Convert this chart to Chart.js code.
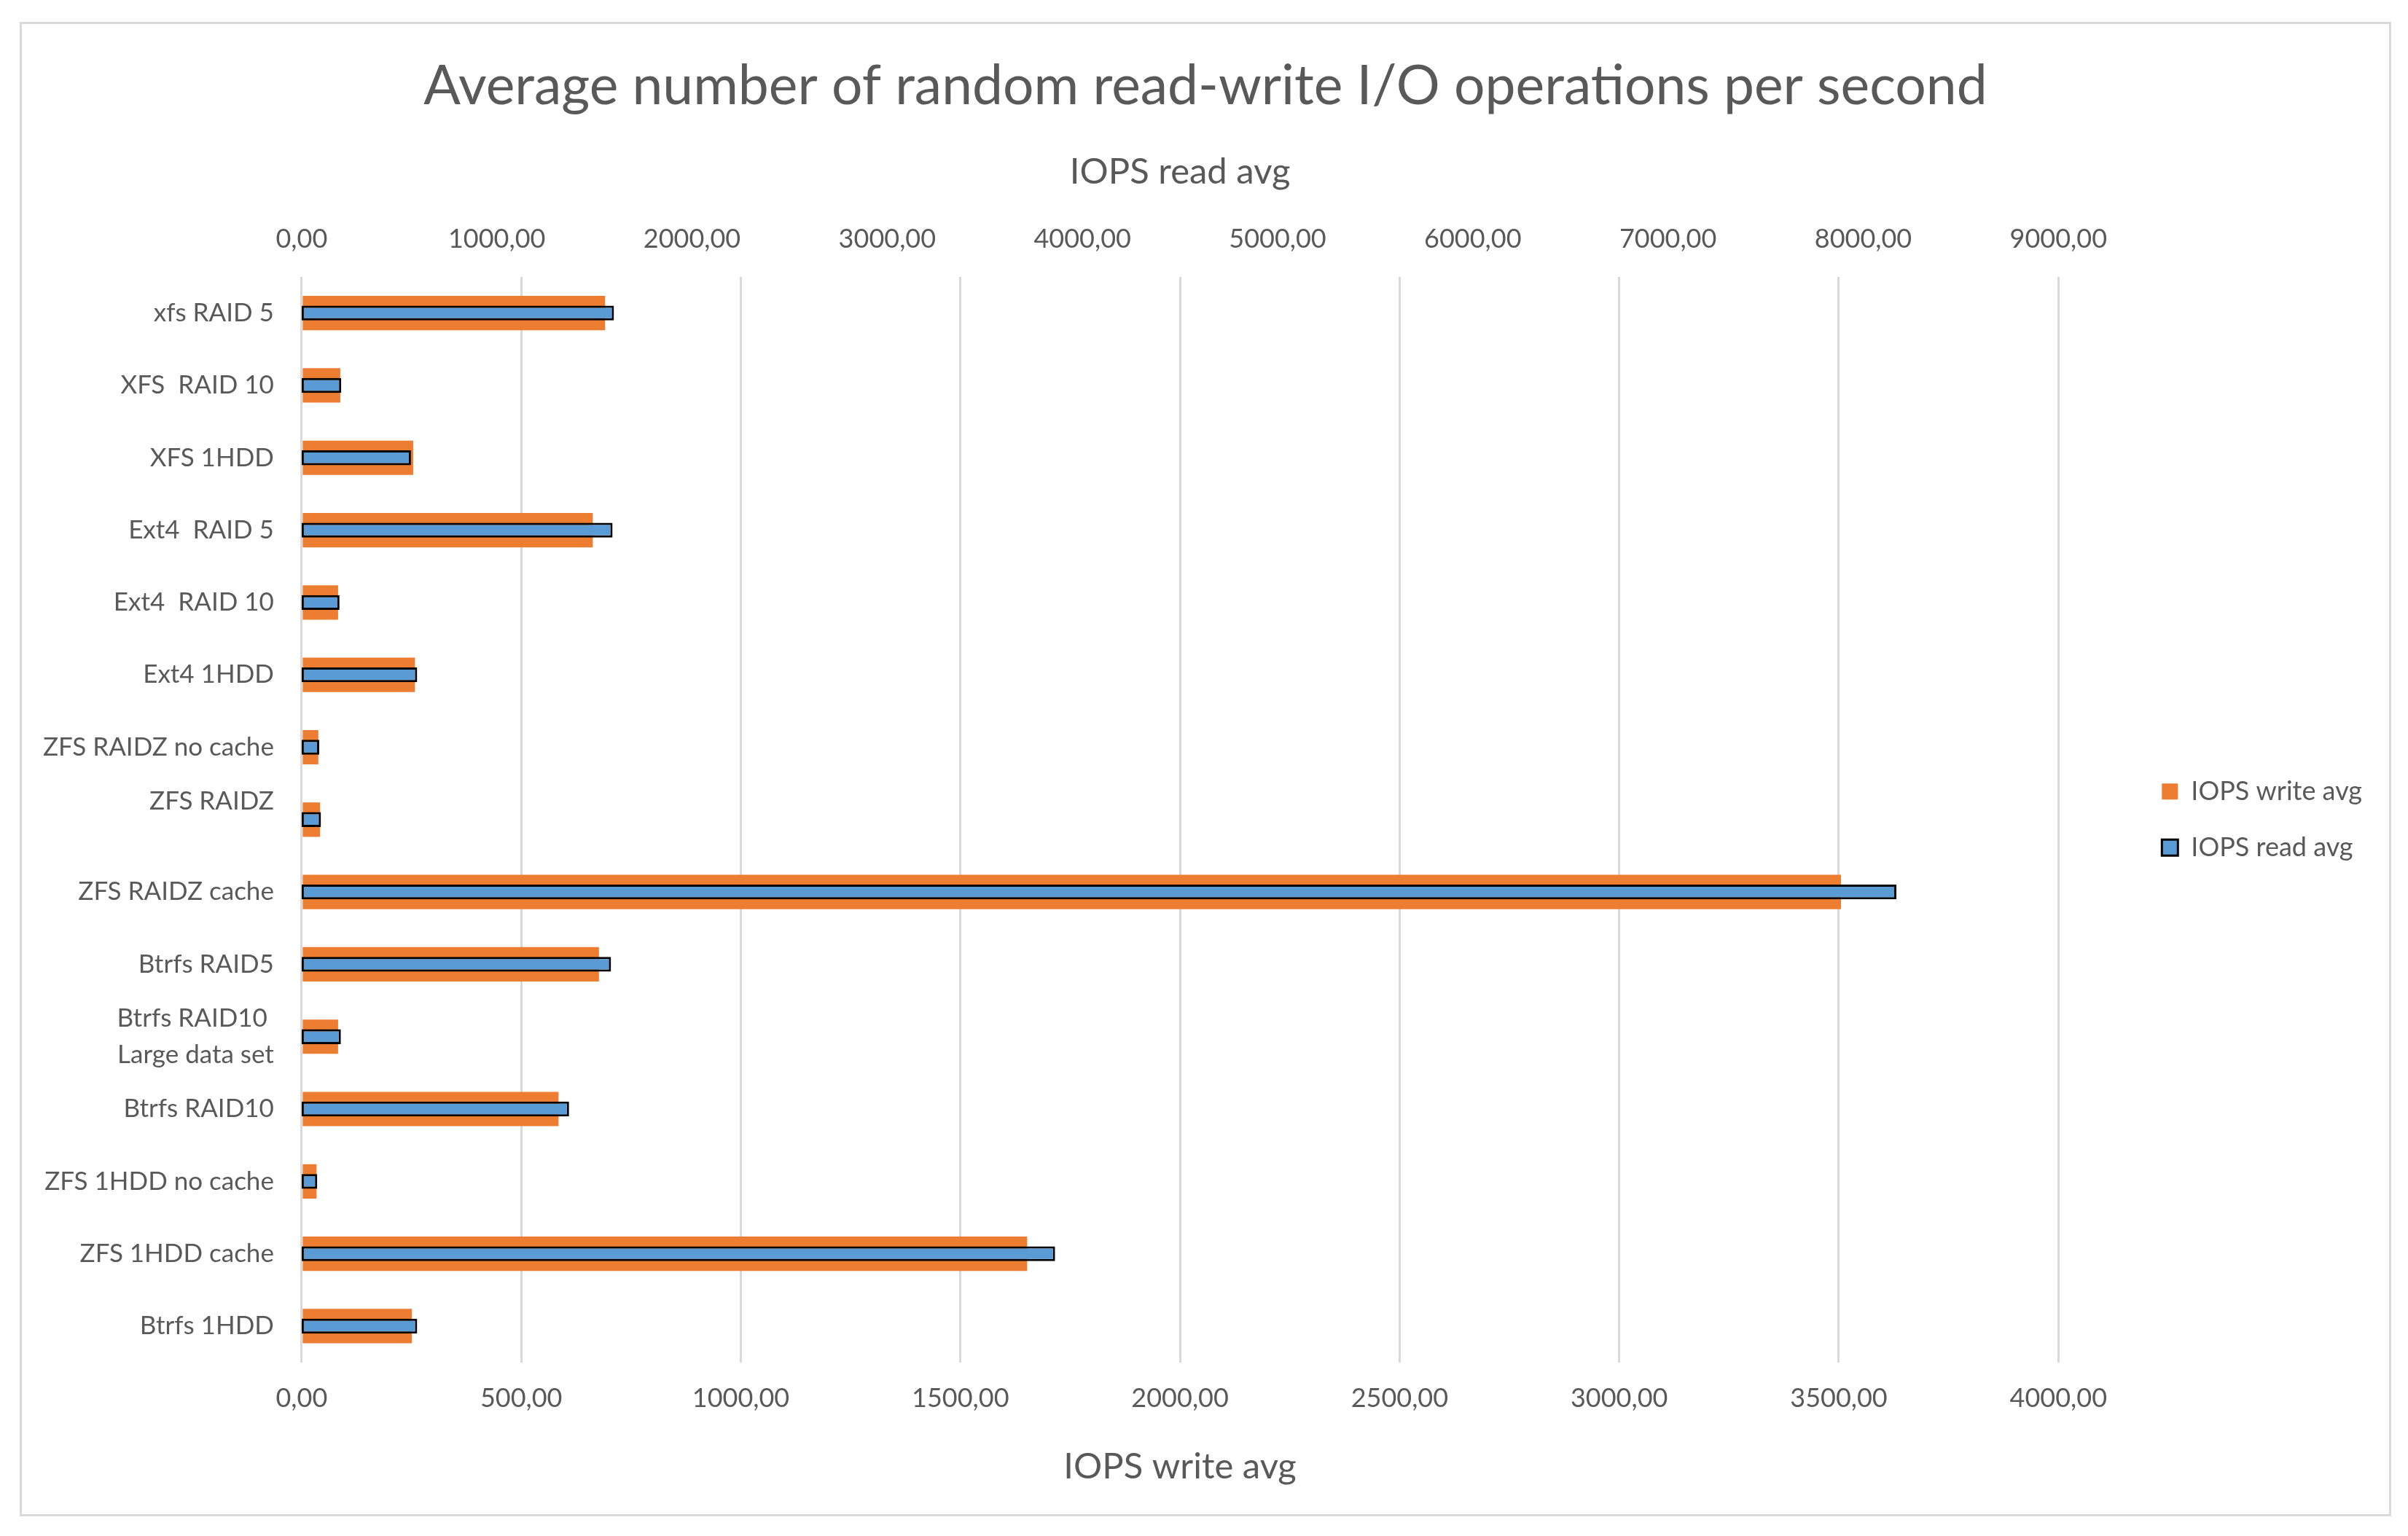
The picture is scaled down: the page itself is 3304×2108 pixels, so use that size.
<!DOCTYPE html>
<html>
<head>
<meta charset="utf-8">
<script src="https://cdn.jsdelivr.net/npm/chart.js@4.4.1/dist/chart.umd.min.js"></script>
<style>
  html, body { margin: 0; padding: 0; background: #fff; }
  #box {
    position: absolute; left: 27px; top: 30px;
    width: 3248px; height: 2045px;
    border: 3px solid #d9d9d9;
  }
</style>
</head>
<body>
<div id="box"><canvas id="chart"></canvas></div>
<script>
const categories = [
  "xfs RAID 5", "XFS  RAID 10", "XFS 1HDD", "Ext4  RAID 5", "Ext4  RAID 10",
  "Ext4 1HDD", "ZFS RAIDZ no cache", ["ZFS RAIDZ", ""], "ZFS RAIDZ cache", "Btrfs RAID5",
  ["Btrfs RAID10 ", "Large data set"], "Btrfs RAID10", "ZFS 1HDD no cache", "ZFS 1HDD cache", "Btrfs 1HDD"
];
const writeAvg = [691, 88, 254, 663, 83, 258, 38, 42, 3505, 677, 83, 585, 34, 1652, 251];
const readAvg = [1600, 203, 560, 1593, 194, 592, 90, 99, 8170, 1585, 201, 1370, 80, 3860, 592];

const grey = "#595959";
Chart.defaults.font.family = "Lato";
Chart.defaults.color = grey;

function fmt(value) {
  return Number(value).toFixed(2).replace(".", ",");
}

new Chart(document.getElementById("chart"), {
  type: "bar",
  data: {
    labels: categories,
    datasets: [
      {
        label: "IOPS read avg",
        data: readAvg,
        xAxisID: "x2",
        backgroundColor: "#5B9BD5",
        borderColor: "#000000",
        borderWidth: 3,
        borderSkipped: false,
        grouped: false,
        categoryPercentage: 1,
        barPercentage: 0.205
      },
      {
        label: "IOPS write avg",
        data: writeAvg,
        xAxisID: "x",
        backgroundColor: "#ED7D31",
        borderWidth: 0,
        grouped: false,
        categoryPercentage: 1,
        barPercentage: 0.475
      }
    ]
  },
  options: {
    indexAxis: "y",
    responsive: true,
    maintainAspectRatio: false,
    animation: false,
    layout: { padding: { top: 41, left: 27, right: 27, bottom: 35 } },
    plugins: {
      title: {
        display: true,
        text: "Average number of random read-write I/O operations per second",
        color: grey,
        font: { size: 75, weight: "normal" },
        padding: { top: 0, bottom: 10 }
      },
      legend: {
        position: "right",
        fullSize: false,
        reverse: true,
        labels: {
          boxWidth: 22,
          boxHeight: 22,
          padding: 41,
          color: grey,
          font: { size: 36 }
        }
      },
      tooltip: { enabled: false }
    },
    scales: {
      y: {
        grid: { display: false, drawTicks: false },
        border: { display: false },
        afterFit: function (scale) { scale.width -= 36; },
        ticks: {
          autoSkip: false,
          padding: 38,
          color: grey,
          font: { size: 35, lineHeight: 1.45 }
        }
      },
      x: {
        position: "bottom",
        min: 0,
        max: 4000,
        grid: { color: "#d9d9d9", lineWidth: 3, drawTicks: false },
        border: { display: false },
        ticks: {
          stepSize: 500,
          padding: 28,
          color: grey,
          font: { size: 36 },
          callback: fmt
        },
        title: {
          display: true,
          text: "IOPS write avg",
          color: grey,
          font: { size: 49, lineHeight: 0.8 },
          padding: { top: 25, bottom: 10 }
        }
      },
      x2: {
        position: "top",
        min: 0,
        max: 9000,
        grid: { display: false, drawTicks: false },
        border: { display: false },
        ticks: {
          stepSize: 1000,
          padding: 30,
          color: grey,
          font: { size: 36 },
          callback: fmt
        },
        title: {
          display: true,
          text: "IOPS read avg",
          color: grey,
          font: { size: 49 },
          padding: { top: 33, bottom: 11 }
        }
      },
      // empty spacer between the plot and the legend
      gap: {
        type: "linear",
        position: "right",
        display: true,
        grid: { display: false, drawTicks: false },
        border: { display: false },
        ticks: { display: false },
        afterFit: function (scale) { scale.width = 101; }
      }
    }
  }
});
</script>
</body>
</html>
